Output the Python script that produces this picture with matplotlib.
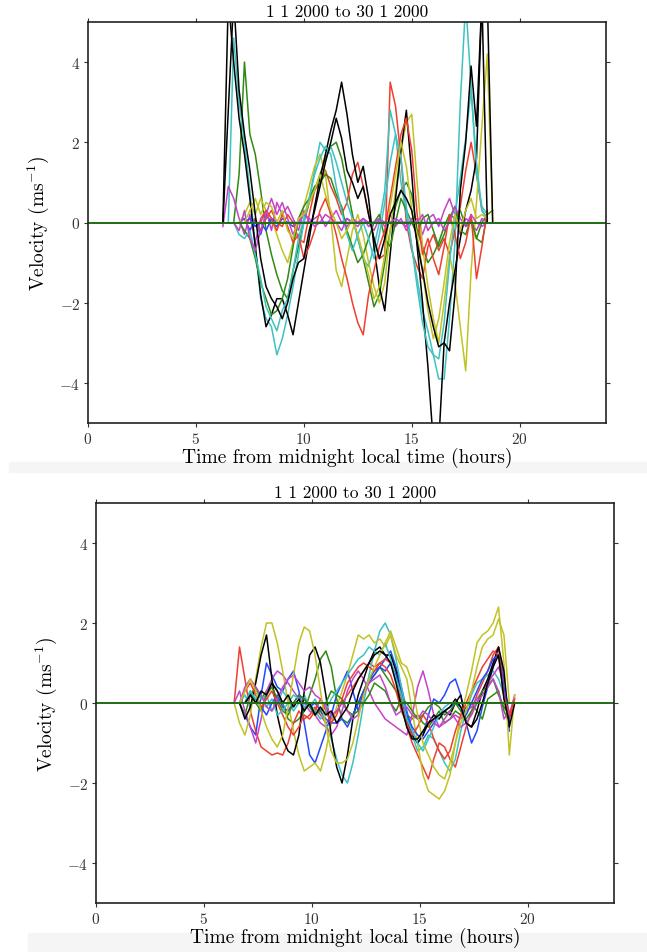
import numpy as np
import matplotlib
matplotlib.use("Agg")
import matplotlib.pyplot as plt
from matplotlib.patches import Rectangle

plt.rcParams["font.family"] = ["cmr10"]
plt.rcParams["mathtext.fontset"] = "cm"
plt.rcParams["axes.formatter.use_mathtext"] = True

nan = np.nan

# ---- top panel: time grid (hours) and velocity series ----
t_top = [6.25, 6.5, 6.75, 7.0, 7.25, 7.5, 7.75, 8.0, 8.25, 8.5,
         8.75, 9.0, 9.25, 9.5, 9.75, 10.0, 10.25, 10.5, 10.75, 11.0,
         11.25, 11.5, 11.75, 12.0, 12.25, 12.5, 12.75, 13.0, 13.25, 13.5,
         13.75, 14.0, 14.25, 14.5, 14.75, 15.0, 15.25, 15.5, 15.75, 16.0,
         16.25, 16.5, 16.75, 17.0, 17.25, 17.5, 17.75, 18.0, 18.25, 18.5,
         18.75]

top_b1 = [nan, nan, nan, 0.0, 0.1, -0.2, 0.1, -0.3, 0.2, 0.0,
          -0.1, 0.1, 0.0, -0.1, 0.0, 0.0, 0.0, 0.0, 0.0, 0.0,
          0.0, 0.0, 0.0, 0.1, 0.0, 0.0, 0.0, 0.0, 0.0, 0.0,
          0.0, 0.0, 0.0, 0.0, 0.0, 0.0, nan, nan, nan, nan,
          nan, nan, nan, nan, nan, nan, nan, nan, nan, nan,
          nan]
top_g1 = [nan, nan, 0.0, 1.2, 4.0, 2.2, 1.7, 0.8, -0.2, -0.8,
          -1.3, -1.7, -1.9, -1.2, -0.6, 0.0, 0.5, 0.8, 1.2, 1.6,
          1.9, 2.0, 1.6, 0.9, 0.2, -0.4, -0.9, -1.5, -2.1, -1.8,
          -1.0, -0.2, 0.4, 0.8, 1.0, 0.7, -0.2, -0.6, -1.0, -0.8,
          -0.5, -0.1, 0.2, 0.1, 0.3, -0.1, 0.0, -0.4, 0.0, 0.2,
          0.3]
top_r1 = [nan, nan, nan, nan, nan, 0.0, 0.1, -0.2, 0.1, 0.3,
          0.0, -0.1, 0.2, 0.0, -0.4, -0.5, 0.2, 0.8, 1.0, 1.3,
          0.9, 0.6, 0.2, 0.5, 1.2, 1.5, 0.9, 0.2, -0.4, -0.9,
          -0.8, 3.5, 2.9, 1.6, 0.0, -0.7, -1.1, -1.4, -0.6, -0.3,
          -0.7, -0.4, -0.8, -0.2, 0.4, 1.3, 2.0, 1.2, 0.3, 0.1,
          nan]
top_c1 = [nan, 0.0, 4.6, 3.0, 2.0, 0.8, -0.6, -1.9, -2.4, -2.6,
          -3.3, -2.9, -2.3, -1.6, -0.8, 0.0, 0.6, 1.3, 2.0, 1.8,
          1.9, 1.5, 1.0, 0.5, 0.1, -0.4, -0.9, -1.1, -0.6, 0.0,
          0.8, 2.8, 2.2, 1.0, 0.2, -0.6, -1.4, -2.2, -2.7, -3.3,
          -3.9, -3.9, -2.4, -0.5, 3.0, 5.5, 3.4, 1.2, 0.4, 0.2,
          nan]
top_m1 = [-0.1, 0.9, 0.6, 0.1, -0.3, 0.2, -0.5, 0.1, 0.3, -0.2,
          0.5, 0.2, 0.4, 0.1, -0.2, 0.3, 0.0, 0.1, 0.2, -0.1,
          0.1, 0.0, -0.2, 0.1, 0.0, -0.1, 0.1, 0.0, -0.2, 0.1,
          0.0, 0.2, -0.1, 0.1, -0.2, 0.0, 0.1, -0.3, 0.1, 0.2,
          -0.1, 0.3, 0.6, 0.2, -0.3, 0.1, 0.0, -0.2, 0.1, 0.0,
          nan]
top_y1 = [nan, nan, nan, 0.0, 0.2, 0.5, 0.2, 0.6, 0.3, 0.1,
          -0.3, -0.7, -1.0, -0.5, 0.0, 0.4, 0.9, 1.4, 1.7, 1.2,
          0.1, -1.2, -1.6, -0.9, -0.2, 0.2, -0.3, -1.0, -1.6, -2.0,
          -1.5, -0.2, 0.8, 1.8, 2.5, 2.7, 1.0, -0.6, -1.6, -2.4,
          -3.0, -2.0, -0.8, -1.5, -2.6, -3.7, -1.2, 0.5, 2.4, 4.2,
          0.0]
top_k1 = [0.0, 5.6, 4.0, 2.6, 1.7, 0.6, -0.6, -1.8, -2.6, -2.3,
          -1.9, -1.9, -2.3, -2.8, -2.0, -1.2, -0.4, 0.4, 1.1, 1.7,
          2.3, 2.8, 3.5, 2.7, 1.7, 1.0, 1.4, 0.6, -0.6, -1.6,
          -2.2, -0.8, 0.6, 1.8, 2.8, 1.2, -0.6, -2.0, -3.6, -5.5,
          -5.5, -3.0, -2.0, -1.2, -0.4, 0.3, 0.8, 1.6, 5.6, 5.6,
          0.0]
top_b2 = [nan, nan, nan, nan, 0.0, 0.1, -0.1, 0.0, -0.2, 0.1,
          0.0, 0.0, 0.0, 0.0, 0.0, 0.0, 0.0, 0.0, 0.0, 0.0,
          0.0, 0.0, 0.0, 0.0, 0.0, 0.0, 0.0, 0.0, 0.0, 0.0,
          0.0, 0.0, 0.0, 0.0, 0.0, 0.0, 0.0, 0.0, 0.0, 0.0,
          0.0, 0.0, 0.0, 0.0, nan, nan, nan, nan, nan, nan,
          nan]
top_g2 = [nan, nan, nan, 0.0, -0.2, -0.4, -0.9, -1.5, -1.9, -2.3,
          -2.2, -1.9, -1.4, -0.6, 0.1, 0.4, 0.6, 0.9, 1.0, 1.2,
          1.1, 0.7, 0.4, -0.2, -0.6, -1.0, -0.8, -0.4, 0.0, 0.2,
          -0.4, -0.6, 0.0, 0.6, 0.3, 0.0, -0.3, 0.1, 0.2, -0.2,
          -0.6, -0.3, 0.1, 0.4, -0.2, -0.3, 0.1, -0.4, -0.5, 0.2,
          nan]
top_r2 = [nan, nan, nan, nan, nan, nan, nan, 0.0, 0.3, 0.1,
          -0.2, 0.2, -0.1, -0.5, -0.3, -0.9, -0.6, -0.2, 0.3, 0.6,
          0.2, -0.3, -0.9, -1.4, -2.0, -2.5, -2.8, -1.8, -1.2, -0.6,
          -0.2, 0.6, 1.4, 2.2, 2.6, 1.8, 0.2, -0.8, -0.4, -0.9,
          -1.3, -0.6, 0.2, -0.3, -0.9, -0.5, 0.2, -1.4, -0.6, 0.3,
          nan]
top_c2 = [nan, nan, 0.0, -0.3, -0.4, -0.2, -0.8, -1.4, -2.1, -2.4,
          -2.7, -2.2, -1.9, -1.2, -0.4, 0.1, 0.6, 1.2, 1.6, 1.9,
          1.7, 0.9, 0.3, -0.3, -0.7, -0.3, 0.0, -0.4, -0.9, -0.3,
          0.5, 1.5, 2.2, 1.6, 0.4, -0.6, -1.6, -2.5, -3.1, -3.3,
          -3.4, -2.5, -1.0, 0.2, 1.1, 2.1, 3.3, 1.5, 0.3, 0.1,
          nan]
top_m2 = [nan, nan, 0.0, -0.2, 0.3, -0.4, -0.7, -0.2, 0.2, 0.6,
          0.2, 0.5, 0.1, -0.3, 0.0, 0.2, 0.1, -0.1, 0.0, 0.2,
          0.1, 0.3, 0.0, -0.1, 0.1, 0.0, 0.1, -0.1, 0.0, 0.1,
          -0.1, 0.0, 0.1, 0.0, -0.1, 0.1, 0.0, 0.2, -0.2, 0.0,
          0.1, -0.2, 0.0, 0.4, 0.1, -0.1, 0.2, 0.0, -0.1, 0.0,
          nan]
top_y2 = [nan, nan, nan, nan, 0.0, 0.3, 0.6, 0.2, 0.5, 0.4,
          0.0, 0.3, -0.2, -0.4, 0.1, 0.2, 0.5, 0.8, 1.2, 0.7,
          0.3, 0.0, -0.4, -0.2, 0.1, -0.3, -0.8, -1.3, -1.9, -1.6,
          -0.8, 0.4, 1.2, 2.0, 1.4, 0.3, -0.3, -1.2, -2.2, -2.9,
          -2.4, -1.5, -0.5, 0.2, -0.2, 0.3, 0.6, 0.1, 0.2, 0.1,
          nan]
top_k2 = [0.0, 2.8, 5.6, 3.3, 2.2, 1.3, 0.2, -0.9, -1.6, -1.9,
          -2.1, -2.4, -2.0, -1.4, -1.0, -0.9, -0.2, 0.3, 0.9, 1.5,
          2.0, 2.6, 2.1, 1.3, 1.0, 0.6, 0.9, 0.2, -0.4, -0.9,
          -0.4, 0.2, 0.5, 0.8, 0.6, 0.3, -0.5, -1.2, -2.0, -2.6,
          -3.1, -3.0, -3.2, -1.8, 0.8, 2.0, 3.9, 2.4, 5.6, 0.0,
          nan]

# ---- bottom panel ----
t_bot = [6.4, 6.65, 6.9, 7.15, 7.4, 7.65, 7.9, 8.15, 8.4, 8.65,
         8.9, 9.15, 9.4, 9.65, 9.9, 10.15, 10.4, 10.65, 10.9, 11.15,
         11.4, 11.65, 11.9, 12.15, 12.4, 12.65, 12.9, 13.15, 13.4, 13.65,
         13.9, 14.15, 14.4, 14.65, 14.9, 15.15, 15.4, 15.65, 15.9, 16.15,
         16.4, 16.65, 16.9, 17.15, 17.4, 17.65, 17.9, 18.15, 18.4, 18.65,
         18.9, 19.15, 19.4]

bot_b1 = [nan, 0.0, -0.3, -0.6, -0.8, 0.2, 1.0, 0.7, 0.4, 0.3,
          0.6, 0.8, 0.3, -0.5, -1.3, -1.5, -1.1, -0.7, -0.3, 0.2,
          0.5, 0.8, 0.3, -0.2, 0.3, 0.6, 0.8, 0.9, 1.1, 1.3,
          0.9, 0.4, -0.2, -0.7, -1.0, -0.8, -0.3, 0.1, 0.0, 0.2,
          0.5, 0.6, 0.2, -0.5, -1.0, -0.7, -0.1, 0.4, 0.9, 1.4,
          0.6, -0.7, nan]
bot_g1 = [nan, 0.0, -0.3, 0.2, 0.4, 0.1, 0.3, 0.5, 0.3, 0.0,
          -0.4, -0.5, -0.4, -0.2, 0.2, 0.6, 1.1, 1.3, 0.9, 0.1,
          -0.4, -0.5, -0.3, 0.0, 0.3, 0.6, 0.7, 0.9, 0.7, 0.5,
          0.3, 0.0, -0.3, -0.4, -0.3, -0.5, -0.6, -0.4, -0.2, -0.5,
          -0.4, -0.2, -0.3, -0.1, 0.0, -0.2, -0.4, 0.1, 0.2, 0.3,
          -0.2, -0.5, nan]
bot_r1 = [0.0, 1.4, 0.6, -0.2, -0.7, -1.1, -1.2, -1.3, -1.25, -1.3,
          -1.0, -0.5, -0.2, -0.4, -0.3, -0.1, -0.3, -0.5, -0.4, -0.2,
          0.0, 0.2, 0.4, 0.6, 0.8, 1.0, 0.9, 1.0, 1.1, 1.0,
          0.6, 0.0, -0.6, -1.0, -1.3, -1.6, -1.9, -1.4, -1.0, -1.1,
          -1.4, -1.6, -1.1, -0.6, -0.2, 0.2, 0.5, 0.8, 1.2, 1.4,
          0.4, -0.4, 0.0]
bot_c1 = [nan, 0.0, 0.2, -0.1, 0.3, 0.1, 0.2, -0.2, 0.0, 0.3,
          0.1, -0.2, 0.0, 0.2, -0.1, 0.1, -0.2, -0.5, -0.9, -1.4,
          -1.8, -2.0, -1.5, -0.8, 0.0, 0.7, 1.3, 1.8, 2.0, 1.7,
          1.1, 0.4, -0.3, -0.8, -1.2, -1.1, -0.8, -0.9, -1.2, -1.5,
          -1.7, -1.4, -0.7, -0.2, 0.2, 0.5, 0.6, 0.7, 0.8, 0.6,
          0.2, 0.0, nan]
bot_m1 = [0.0, 0.3, -0.2, -0.6, -1.0, -0.4, 0.3, 0.6, 0.8, 0.7,
          0.5, 0.3, 0.1, 0.0, -0.2, -0.3, -0.5, -0.6, -0.8, -0.6,
          -0.2, 0.3, 0.6, 0.8, 0.6, 0.3, 0.0, -0.2, -0.4, -0.5,
          -0.6, -0.7, -0.8, -0.3, 0.4, 0.8, 0.3, -0.3, -0.6, -0.5,
          -0.4, -0.3, -0.4, -0.2, -0.1, 0.1, 0.3, 0.5, 0.7, 0.9,
          0.5, -0.3, 0.2]
bot_y1 = [0.0, -0.5, -0.8, -0.3, 0.6, 1.4, 2.0, 2.0, 1.5, 0.8,
          0.0, -0.7, -1.3, -1.7, -1.6, -1.5, -1.7, -1.2, -0.5, -0.1,
          0.3, 0.7, 1.2, 1.7, 1.6, 1.7, 1.5, 1.6, 1.4, 1.7,
          1.2, 0.9, 0.6, -0.2, -1.0, -1.8, -2.2, -2.3, -2.4, -2.2,
          -1.8, -1.0, -0.3, 0.2, 0.8, 1.5, 1.7, 1.8, 2.0, 2.4,
          1.0, -1.3, 0.2]
bot_k1 = [nan, 0.0, -0.4, -0.1, 0.5, 1.2, 1.7, 0.6, -0.3, -0.9,
          -1.2, -1.3, -0.8, 0.3, 1.2, 1.4, 1.0, 0.2, -0.8, -1.6,
          -2.0, -1.3, -0.4, 0.2, 0.6, 1.0, 1.3, 1.4, 1.2, 1.2,
          0.8, 0.2, -0.4, -0.8, -1.0, -0.8, -0.5, -0.3, -0.4, -0.2,
          -0.3, 0.0, 0.2, -0.5, -0.6, -0.2, 0.3, 0.6, 1.0, 1.4,
          0.8, -0.6, 0.0]
bot_b2 = [nan, nan, 0.0, 0.2, 0.1, -0.1, -0.3, 0.0, 0.2, -0.1,
          -0.2, 0.0, 0.2, 0.1, -0.1, 0.0, -0.2, -0.4, -0.5, -0.5,
          -0.4, -0.6, -0.3, 0.0, 0.3, 0.5, 0.7, 0.9, 0.8, 1.0,
          0.7, 0.2, -0.3, -0.6, -0.8, -0.9, -0.7, -0.5, -0.3, -0.2,
          -0.1, 0.0, -0.1, -0.3, 0.0, 0.3, 0.6, 0.8, 1.1, 1.2,
          0.4, -0.5, nan]
bot_g2 = [nan, nan, 0.0, 0.3, 0.0, -0.2, 0.2, 0.4, 0.1, -0.2,
          -0.3, 0.0, 0.2, 0.1, -0.1, -0.3, -0.2, 0.0, 0.3, 0.2,
          0.1, -0.2, -0.3, -0.2, 0.0, 0.2, 0.5, 0.4, 0.3, 0.0,
          -0.2, 0.1, 0.0, -0.2, -0.4, -0.3, -0.1, 0.0, -0.1, -0.3,
          -0.2, 0.0, -0.2, -0.4, -0.2, 0.0, 0.3, 0.4, 0.6, 0.2,
          -0.1, -0.3, nan]
bot_r2 = [nan, 0.0, 0.3, 0.5, 0.2, -0.1, 0.1, 0.3, 0.0, -0.3,
          -0.6, -0.8, -0.6, -0.3, -0.4, -0.2, 0.1, -0.2, -0.5, -0.3,
          0.1, 0.5, 0.7, 0.9, 1.0, 0.9, 0.8, 1.0, 0.9, 0.7,
          0.3, -0.2, -0.5, -0.8, -0.6, -0.3, -0.5, -0.9, -1.2, -1.4,
          -1.2, -0.7, -0.3, 0.0, 0.3, 0.6, 0.9, 1.1, 1.3, 1.2,
          0.2, -0.3, 0.1]
bot_c2 = [nan, nan, 0.0, 0.3, 0.1, 0.2, -0.1, 0.1, -0.3, -0.2,
          0.0, 0.2, 0.1, -0.1, 0.0, -0.2, -0.4, -0.2, 0.1, 0.3,
          0.5, 0.7, 0.9, 1.1, 1.2, 1.4, 1.3, 1.2, 1.5, 1.1,
          0.6, 0.2, -0.4, -0.7, -1.0, -1.2, -0.9, -0.6, -0.3, -0.1,
          0.0, 0.0, 0.0, 0.0, 0.0, 0.0, 0.0, 0.0, 0.0, 0.0,
          0.0, 0.0, nan]
bot_m2 = [nan, 0.0, 0.4, 0.6, 0.4, 0.2, -0.1, -0.2, 0.1, 0.4,
          0.6, 0.7, 0.5, 0.3, 0.4, 0.2, 0.1, -0.1, -0.3, -0.2,
          0.0, -0.2, -0.4, -0.3, 0.2, 0.5, 0.6, 0.7, 0.4, 0.0,
          -0.3, -0.2, -0.1, -0.3, -0.4, -0.2, -0.3, -0.5, -0.6, -0.4,
          -0.2, -0.4, -0.6, -0.5, -0.3, 0.0, 0.2, 0.4, 0.6, 0.3,
          -0.4, -0.2, nan]
bot_y2 = [nan, 0.0, 0.3, 0.6, 0.3, -0.2, -0.6, -0.9, -1.1, -0.8,
          -0.1, 0.7, 1.5, 1.9, 1.8, 1.2, 0.3, -0.6, -1.2, -1.5,
          -1.5, -1.4, -1.0, -0.4, 0.2, 0.6, 0.9, 1.2, 1.5, 1.8,
          1.4, 1.0, 0.9, 0.5, -0.3, -1.0, -1.3, -1.6, -1.8, -1.9,
          -1.5, -1.0, -0.5, -0.2, 0.3, 0.9, 1.4, 1.6, 1.7, 2.1,
          1.7, 0.0, nan]
bot_k2 = [nan, nan, 0.0, 0.2, 0.0, 0.3, 0.2, 0.5, 0.3, 0.0,
          0.2, -0.1, 0.1, -0.2, 0.0, -0.3, -0.1, -0.3, -0.2, -0.5,
          -0.3, -0.1, 0.3, 0.6, 0.8, 1.0, 1.2, 1.3, 1.2, 1.0,
          0.5, -0.1, -0.6, -0.9, -0.9, -0.7, -0.5, -0.4, -0.3, -0.2,
          -0.1, 0.1, -0.1, -0.5, -0.6, -0.4, 0.0, 0.5, 0.9, 1.2,
          0.1, -0.5, nan]

title = "1 1 2000 to 30 1 2000"
xlabel = "Time from midnight local time (hours)"
ylabel = r"Velocity (ms$^{-1}$)"

# classic-style colour cycle, slightly softened as in the screenshot
colors = ["#2448ff", "#2f8a14", "#ef3e30", "#3cc2c2", "#c444c8", "#c2c224", "#000000"]

top_series = [top_b1, top_g1, top_r1, top_c1, top_m1, top_y1, top_k1,
              top_b2, top_g2, top_r2, top_c2, top_m2, top_y2, top_k2]
bot_series = [bot_b1, bot_g1, bot_r1, bot_c1, bot_m1, bot_y1, bot_k1,
              bot_b2, bot_g2, bot_r2, bot_c2, bot_m2, bot_y2, bot_k2]

fig = plt.figure(figsize=(6.47, 9.53), dpi=100)

# light grey strips under each screenshot (behind the axes and labels)
fig.patches.append(Rectangle((9 / 647, 1 - 473 / 953), 1, 10 / 953,
                             transform=fig.transFigure, color="#f5f5f5", zorder=-5))
fig.patches.append(Rectangle((28 / 647, 0), 1, 19 / 953,
                             transform=fig.transFigure, color="#f5f5f5", zorder=-5))

ax1 = fig.add_axes([88 / 647, 1 - 424 / 953, 518 / 647, 401 / 953])
ax2 = fig.add_axes([96 / 647, 1 - 904 / 953, 518 / 647, 400 / 953])

for ax, t, series in [(ax1, t_top, top_series), (ax2, t_bot, bot_series)]:
    for i, s in enumerate(series):
        ax.plot(t, s, color=colors[i % 7], lw=1.1)
    ax.axhline(0, color="#1f6e14", lw=1.4)
    ax.set_xlim(0, 24)
    ax.set_ylim(-5, 5)
    ax.set_xticks([0, 5, 10, 15, 20])
    ax.set_yticks([-4, -2, 0, 2, 4])
    ax.tick_params(direction="out", length=3, width=0.8, top=True, right=True,
                   labelsize=11, colors="#333333", pad=2.5)
    for sp in ax.spines.values():
        sp.set_linewidth(1.2)
        sp.set_color("#222222")
    ax.set_title(title, fontsize=12.5, pad=4)
    ax.set_xlabel(xlabel, fontsize=14, labelpad=1)
    ax.set_ylabel(ylabel, fontsize=14, labelpad=6)

fig.savefig("out.png", dpi=100)
